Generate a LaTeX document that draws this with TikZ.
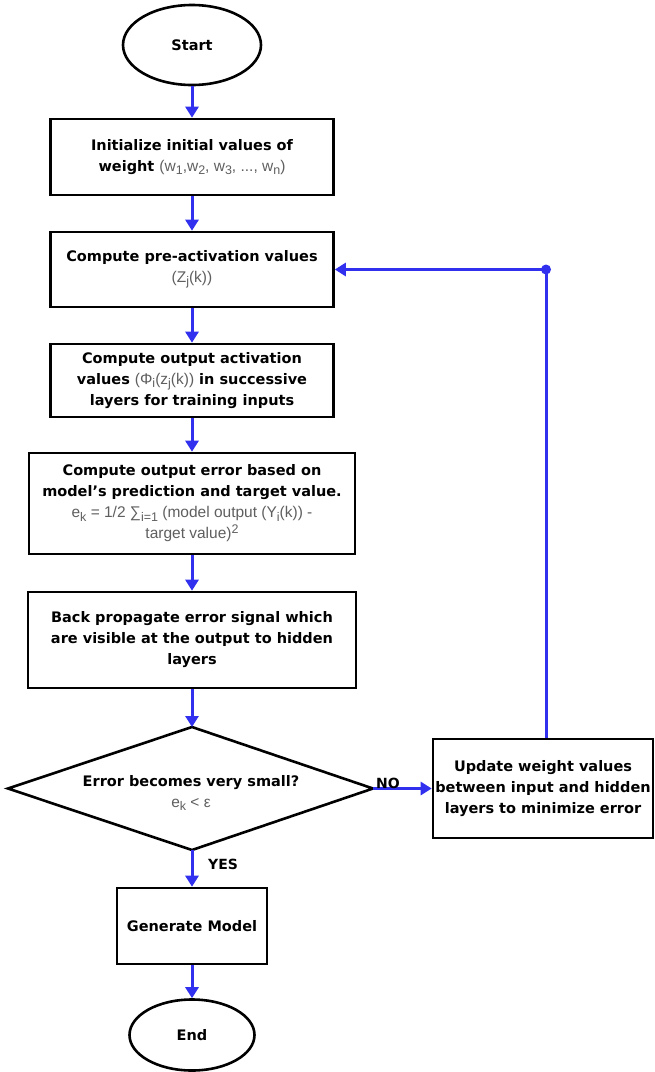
\documentclass[tikz,border=0pt]{standalone}
\usepackage{fontspec}
\setmainfont{DejaVu Sans}
\newfontfamily\grayf{Liberation Sans}
\usetikzlibrary{shapes.geometric,arrows.meta}
\definecolor{flowblue}{RGB}{48,48,238}
\definecolor{txtgray}{RGB}{95,95,95}
\newcommand{\dn}[1]{\raisebox{-0.4ex}{\fontsize{12.5}{12}\selectfont #1}}
\newcommand{\up}[1]{\raisebox{0.6ex}{\fontsize{12.5}{12}\selectfont #1}}
\newcommand{\gt}[1]{{\grayf\mdseries\fontsize{15.5}{21}\selectfont\color{txtgray}#1}}
\begin{document}
\begin{tikzpicture}[x=1pt,y=-1pt,
  box/.style={draw=black,line width=2.6pt,rectangle,align=center,inner sep=2pt,
    font=\fontsize{14.5}{21}\selectfont\bfseries},
  term/.style={draw=black,line width=2.6pt,ellipse,inner sep=0pt,
    font=\fontsize{14.5}{21}\selectfont\bfseries},
  dectext/.style={align=center,inner sep=0pt,
    font=\fontsize{14.5}{21}\selectfont\bfseries},
  decline/.style={draw=black,line width=2.6pt,line join=miter},
  flow/.style={draw=flowblue,line width=3pt,-{Triangle[length=11pt,width=13pt]}},
  lbl/.style={font=\fontsize{14}{14}\selectfont\bfseries,inner sep=0pt}]
\useasboundingbox (0,0) rectangle (654,1072);
\node[term,minimum width=138,minimum height=80] (start) at (192,45) {Start};
\node[box,minimum width=283,minimum height=76] (b1) at (192,157)
  {Initialize initial values of\\weight \gt{(w\dn{1},w\dn{2}, w\dn{3}, ..., w\dn{n})}};
\node[box,minimum width=283,minimum height=75] (b2) at (192,269.5)
  {Compute pre-activation values\\\gt{(Z\dn{j}(k))}};
\node[box,minimum width=283,minimum height=73] (b3) at (192,380.5)
  {Compute output activation\\values \gt{(Φ\dn{i}(z\dn{j}(k))} in successive\\layers for training inputs};
\node[box,minimum width=326,minimum height=101] (b4) at (192,503.5)
  {Compute output error based on\\model's prediction and target value.\\
   \gt{e\dn{k} = 1/2 ∑\dn{i=1} (model output (Y\dn{i}(k)) -}\\\gt{target value)\up{2}}};
\node[box,minimum width=328,minimum height=96] (b5) at (192,640)
  {Back propagate error signal which\\are visible at the output to hidden\\layers};
\coordinate (dtop) at (192,727);
\coordinate (dbot) at (192,850);
\coordinate (dleft) at (8,788.5);
\coordinate (dright) at (373,788.5);
\draw[decline] (dtop) -- (dright) -- (dbot) -- (dleft) -- cycle;
\node[dectext] (dec) at (191,793) {Error becomes very small?\\\gt{e\dn{k} < ε}};
\node[box,minimum width=220,minimum height=99] (upd) at (543,788.5)
  {Update weight values\\between input and hidden\\layers to minimize error};
\node[box,minimum width=150,minimum height=76] (gen) at (192,926) {Generate Model};
\node[term,minimum width=125,minimum height=71] (end) at (192,1035) {End};
\coordinate (loopc) at (546,269.5);
\draw[flow] (start) -- (b1);
\draw[flow] (b1) -- (b2);
\draw[flow] (b2) -- (b3);
\draw[flow] (b3) -- (b4);
\draw[flow] (b4) -- (b5);
\draw[flow] (b5.south) -- (dtop);
\draw[flow] (dright) -- (upd.west);
\draw[flow] (dbot) -- (gen.north);
\draw[flow] (gen) -- (end);
\draw[flow] (loopc |- upd.north) -- (loopc) -- (b2.east);
\fill[flowblue] (loopc) circle (5pt);
\node[lbl,anchor=south west] (no) at (376,789) {NO};
\node[lbl,anchor=west] (yes) at (208,864) {YES};
\end{tikzpicture}
\end{document}
